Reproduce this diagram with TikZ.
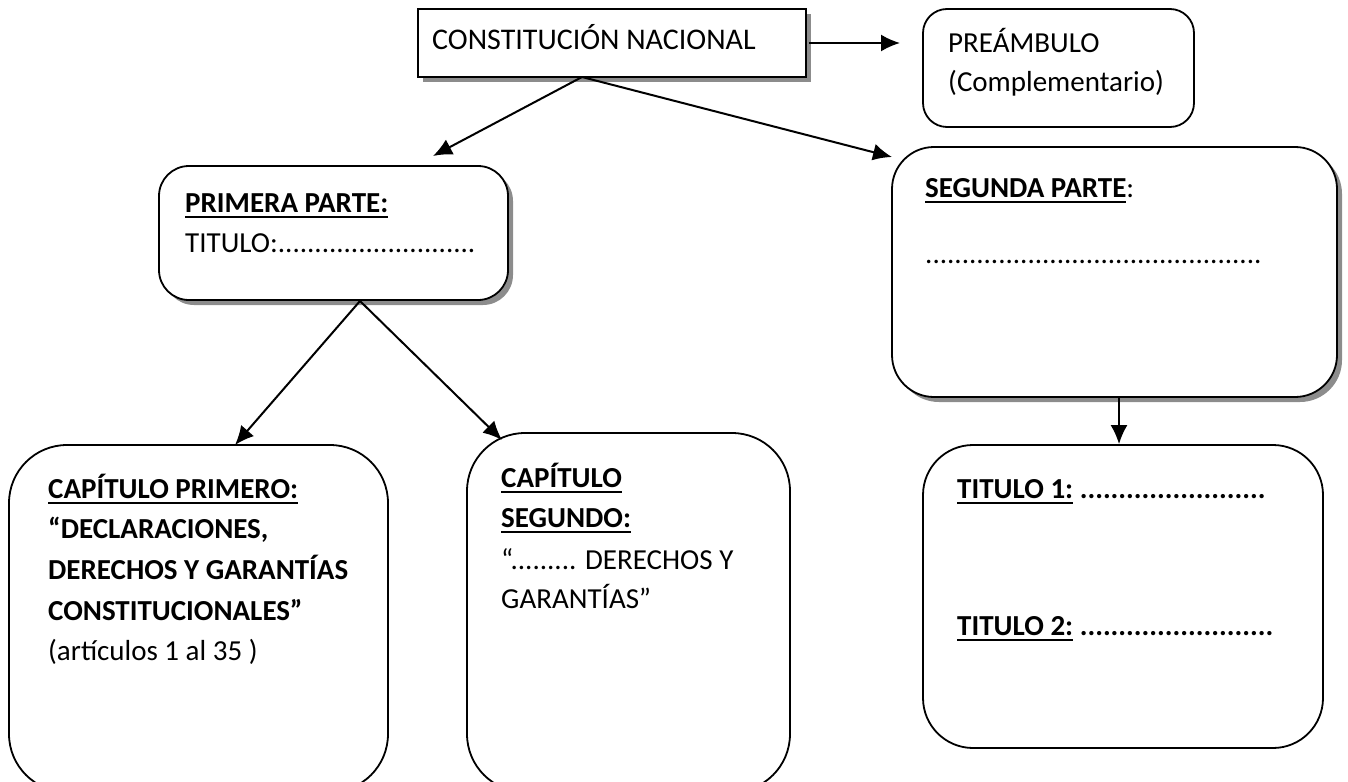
\documentclass[tikz,border=0pt]{standalone}
\usepackage{fontspec}
\setmainfont{Carlito}
\usetikzlibrary{arrows.meta,shadows}
\newsavebox\ulbox
\newcommand\ulin[1]{\sbox\ulbox{#1}\rlap{\rule[-5.5pt]{\wd\ulbox}{2pt}}\usebox\ulbox}
\tikzset{
 box/.style={draw, line width=1.8pt, fill=white, inner sep=0pt},
 sh/.style={drop shadow={shadow xshift=5pt, shadow yshift=-5pt, fill=black!45, opacity=1}},
 txt/.style={anchor=base west, inner sep=0pt, font=\fontsize{29}{36}\selectfont},
 arr/.style={line width=2pt, -{Latex[length=19pt,width=17pt]}},
}
\begin{document}
\begin{tikzpicture}[x=1pt,y=-1pt]
\useasboundingbox (0,0) rectangle (1348,781);
% boxes
\node[box, sh, minimum width=388pt, minimum height=68pt] (cn) at (612,43) {};
\node[box, rounded corners=24pt, minimum width=271pt, minimum height=118pt] (pre) at (1058.5,68) {};
\node[box, sh, rounded corners=30pt, minimum width=349pt, minimum height=134pt] (p1) at (333.5,233) {};
\node[box, sh, rounded corners=42pt, minimum width=445pt, minimum height=250pt] (p2) at (1114.5,272) {};
\node[box, rounded corners=58pt, minimum width=379pt, minimum height=347pt] (c1) at (198.5,618.5) {};
\node[box, rounded corners=58pt, minimum width=323pt, minimum height=359pt] (c2) at (628.5,612.5) {};
\node[box, rounded corners=50pt, minimum width=400pt, minimum height=303pt] (t) at (1123,596.5) {};
% texts
\node[txt] (cnt) at (432,50) {\fontsize{30}{36}\selectfont CONSTITUCIÓN NACIONAL};
\node[txt] (pre1) at (948,53) {PREÁMBULO};
\node[txt] (pre2) at (948,92) {(Complementario)};
\node[txt] (p1a) at (185,212) {\bfseries\ulin{PRIMERA PARTE:}};
\node[txt] (p1b) at (185,252) {TITULO:...........................};
\node[txt] (p2a) at (925,197) {\bfseries\ulin{SEGUNDA PARTE}\mdseries:};
\node[txt] (p2b) at (925,263) {..............................................};
\node[txt] (c1a) at (48,498) {\bfseries\ulin{CAPÍTULO PRIMERO:}};
\node[txt] (c1b) at (48,538) {\bfseries “DECLARACIONES,};
\node[txt] (c1c) at (48,579) {\bfseries DERECHOS Y GARANTÍAS};
\node[txt] (c1d) at (48,620) {\bfseries CONSTITUCIONALES”};
\node[txt] (c1e) at (48,660) {(artículos 1 al 35 )};
\node[txt] (c2a) at (501,487) {\bfseries\ulin{CAPÍTULO}};
\node[txt] (c2b) at (501,527) {\bfseries\ulin{SEGUNDO:}};
\node[txt] (c2c) at (501,569) {“......... DERECHOS Y};
\node[txt] (c2d) at (501,608) {GARANTÍAS”};
\node[txt] (t1) at (957,498) {\bfseries\ulin{TITULO 1:} ........................};
\node[txt] (t2) at (957,635) {\bfseries\ulin{TITULO 2:} .........................};
% connectors
\coordinate (a0) at (582,77);
\coordinate (apre) at (900,43);
\coordinate (ap1) at (433,156);
\coordinate (ap2) at (892,157);
\coordinate (b0) at (360,301);
\coordinate (bc2) at (502,440);
\draw[arr] ([xshift=2pt]cn.east) -- (apre);
\draw[arr] (a0) -- (ap1);
\draw[arr] (a0) -- (ap2);
\draw[arr] (b0) -- (235,445);
\draw[arr] (b0) -- (bc2);
\draw[arr] (p2.south -| 1119,0) -- (t.north -| 1119,0);
\end{tikzpicture}
\end{document}
